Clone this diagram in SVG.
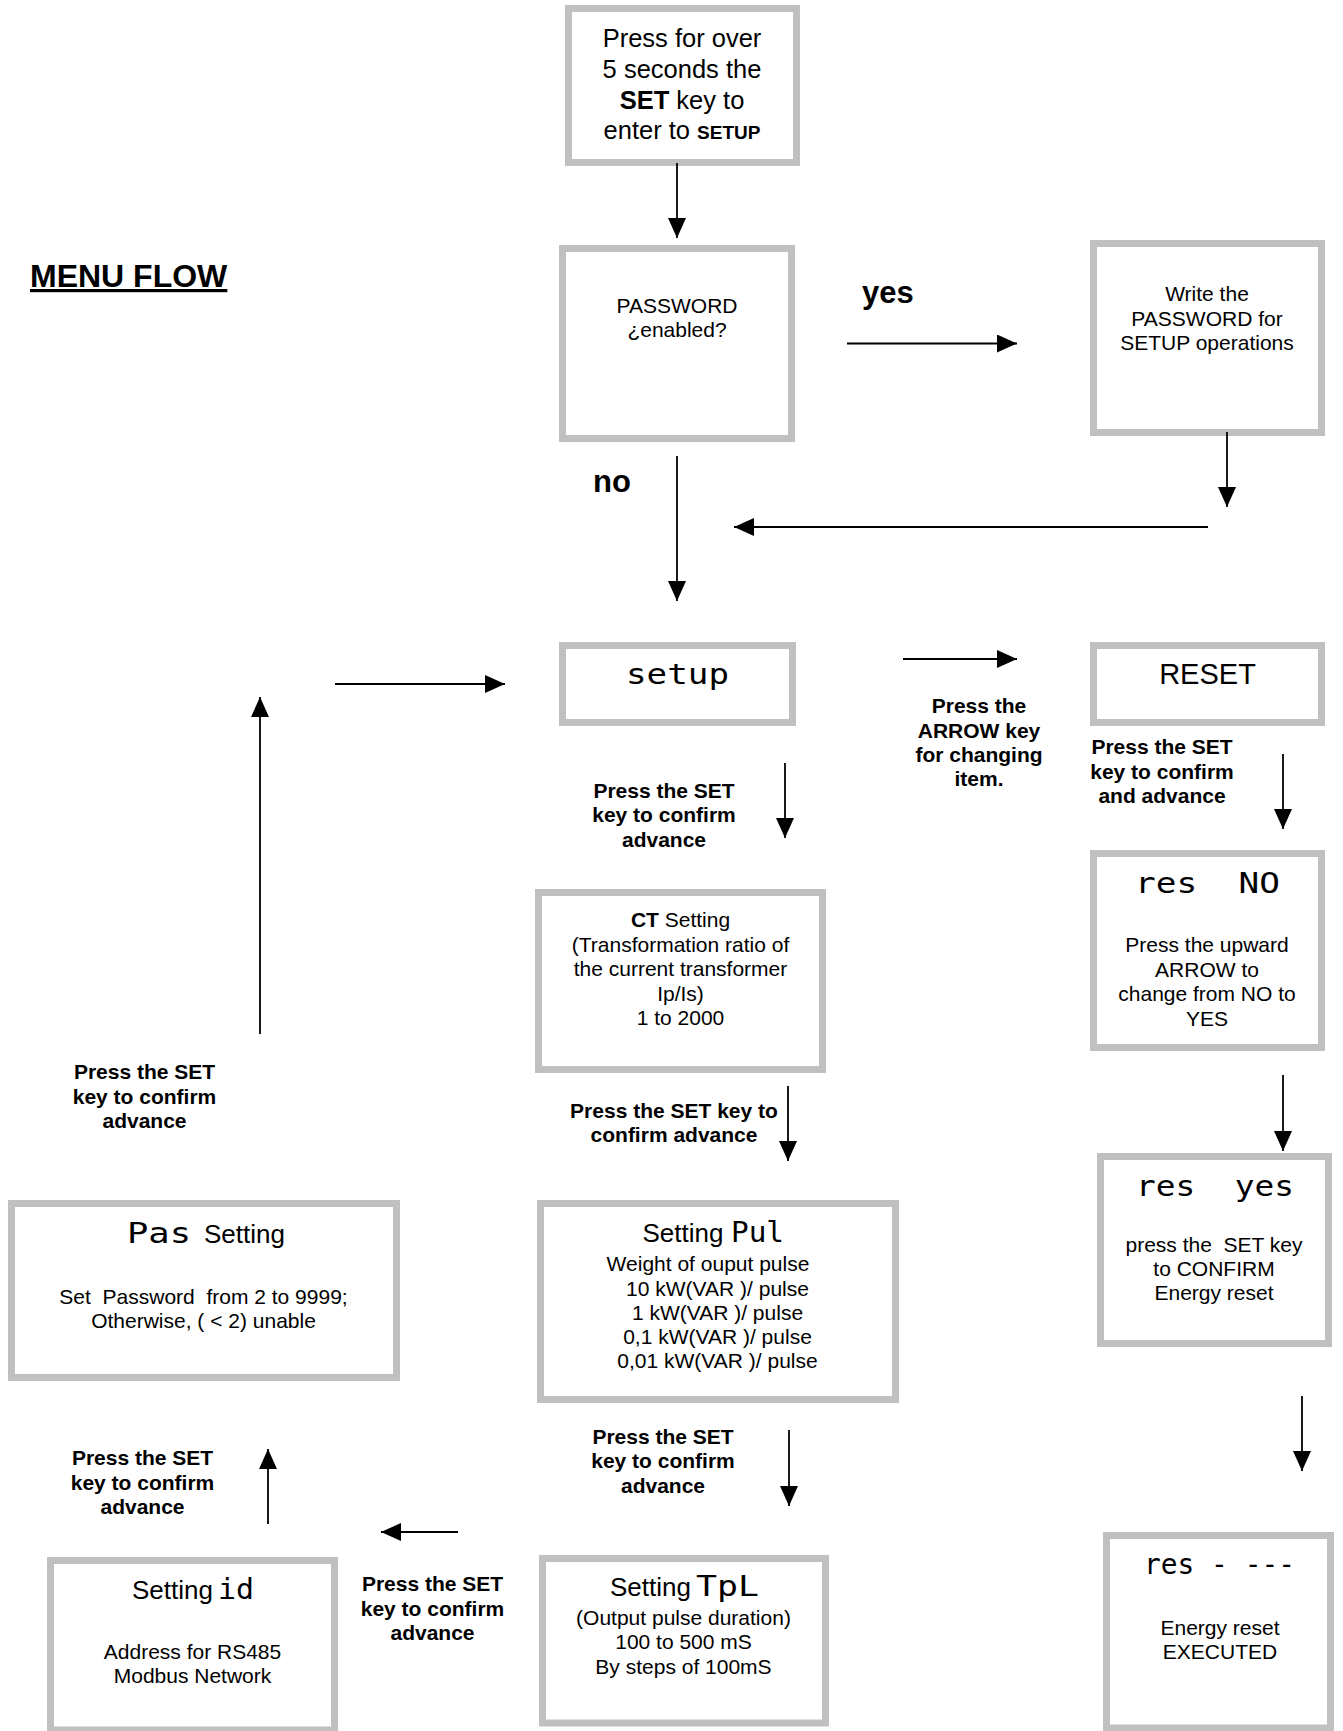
<svg xmlns="http://www.w3.org/2000/svg" width="1343" height="1731" viewBox="0 0 1343 1731">
<style>
.box{fill:#fff;stroke:#c0c0c0;stroke-width:7}
.t{font-family:"Liberation Sans",Arial,sans-serif;font-size:21px;text-anchor:middle;fill:#000}
.b{font-family:"Liberation Sans",Arial,sans-serif;font-size:21px;font-weight:bold;text-anchor:middle;fill:#000}
.big{font-family:"Liberation Sans",Arial,sans-serif;font-size:31px;font-weight:bold;fill:#000}
.hd{font-family:"Liberation Sans",Arial,sans-serif;font-size:26px;fill:#000}
.m{font-family:"DejaVu Sans Mono",monospace;font-size:28px;fill:#000;white-space:pre}
.pre{white-space:pre}
.conn line{stroke:#000;stroke-width:1.8;fill:none}
</style>
<defs>
<marker id="ah" markerUnits="userSpaceOnUse" markerWidth="20" markerHeight="18" refX="20" refY="9" orient="auto">
<path d="M0,0 L20,9 L0,18 z" fill="#000"/>
</marker>
</defs>
<rect width="1343" height="1731" fill="#fff"/>

<text id="title" x="30" y="287" class="big" text-decoration="underline" style="font-size:32px">MENU FLOW</text>

<g id="n-start">
<rect class="box" x="568.5" y="8.5" width="228" height="154"/>
<text class="t" style="font-size:25.5px" x="682" y="46.5">Press for over</text>
<text class="t" style="font-size:25.5px" x="682" y="77.5">5 seconds the</text>
<text class="t" style="font-size:25.5px" x="682" y="108.5"><tspan font-weight="bold">SET</tspan> key to</text>
<text class="t" style="font-size:25.5px" x="682" y="139">enter to <tspan font-weight="bold" font-size="19">SETUP</tspan></text>
</g>

<g id="n-password">
<rect class="box" x="562.5" y="248.5" width="229" height="190"/>
<text class="t" x="677" y="313">PASSWORD</text>
<text class="t" x="677" y="337">¿enabled?</text>
</g>

<g id="n-write">
<rect class="box" x="1093.5" y="243.5" width="228" height="189"/>
<text class="t" x="1207" y="301">Write the</text>
<text class="t" x="1207" y="325.5">PASSWORD for</text>
<text class="t" x="1207" y="350">SETUP operations</text>
</g>

<g id="n-setup">
<rect class="box" x="562.5" y="645.5" width="230" height="77"/>
<text class="m" x="626" y="684" textLength="103" lengthAdjust="spacingAndGlyphs">setup</text>
</g>

<g id="n-reset">
<rect class="box" x="1093.5" y="645.5" width="228" height="77"/>
<text class="t" style="font-size:29px" x="1207.5" y="684">RESET</text>
</g>

<g id="n-resno">
<rect class="box" x="1093.5" y="853.5" width="228" height="194"/>
<text class="m" x="1135" y="893" textLength="145" lengthAdjust="spacingAndGlyphs">res  NO</text>
<text class="t" x="1207" y="952">Press the upward</text>
<text class="t" x="1207" y="976.5">ARROW to</text>
<text class="t" x="1207" y="1001">change from NO to</text>
<text class="t" x="1207" y="1025.5">YES</text>
</g>

<g id="n-resyes">
<rect class="box" x="1100.5" y="1156.5" width="228" height="187"/>
<text class="m" x="1136" y="1196" textLength="158" lengthAdjust="spacingAndGlyphs">res  yes</text>
<text class="t pre" x="1214" y="1252">press the  SET key</text>
<text class="t" x="1214" y="1276">to CONFIRM</text>
<text class="t" x="1214" y="1300">Energy reset</text>
</g>

<g id="n-resdone">
<rect class="box" x="1106.5" y="1535.5" width="224" height="192.5"/>
<text class="m" x="1144" y="1574" textLength="151" lengthAdjust="spacingAndGlyphs">res - ---</text>
<text class="t" x="1220" y="1635">Energy reset</text>
<text class="t" x="1220" y="1659">EXECUTED</text>
</g>

<g id="n-ct">
<rect class="box" x="538.5" y="892.5" width="284" height="177"/>
<text class="t" x="680.5" y="927"><tspan font-weight="bold">CT</tspan> Setting</text>
<text class="t" x="680.5" y="951.5">(Transformation ratio of</text>
<text class="t" x="680.5" y="976">the current transformer</text>
<text class="t" x="680.5" y="1000.5">Ip/Is)</text>
<text class="t" x="680.5" y="1025">1 to 2000</text>
</g>

<g id="n-pul">
<rect class="box" x="540.5" y="1203.5" width="355" height="196"/>
<text class="hd" x="642.5" y="1241.5">Setting</text>
<text class="m" x="731" y="1241.5" textLength="53" lengthAdjust="spacingAndGlyphs">Pul</text>
<text class="t" x="708" y="1271">Weight of ouput pulse</text>
<text class="t" x="717.5" y="1295.5">10 kW(VAR )/ pulse</text>
<text class="t" x="717.5" y="1319.5">1 kW(VAR )/ pulse</text>
<text class="t" x="717.5" y="1343.5">0,1 kW(VAR )/ pulse</text>
<text class="t" x="717.5" y="1368">0,01 kW(VAR )/ pulse</text>
</g>

<g id="n-tpl">
<rect class="box" x="542.5" y="1558.5" width="283" height="164.5"/>
<text class="hd" x="610" y="1596">Setting</text>
<text class="m" x="696" y="1596" textLength="63" lengthAdjust="spacingAndGlyphs">TpL</text>
<text class="t" x="683.5" y="1624.5">(Output pulse duration)</text>
<text class="t" x="683.5" y="1649">100 to 500 mS</text>
<text class="t" x="683.5" y="1673.5">By steps of 100mS</text>
</g>

<g id="n-id">
<rect class="box" x="50.5" y="1560.5" width="284" height="169.5"/>
<text class="hd" x="132" y="1599">Setting</text>
<text class="m" x="218" y="1599" textLength="36" lengthAdjust="spacingAndGlyphs">id</text>
<text class="t" x="192.5" y="1658.5">Address for RS485</text>
<text class="t" x="192.5" y="1683">Modbus Network</text>
</g>

<g id="n-pas">
<rect class="box" x="11.5" y="1203.5" width="385" height="174"/>
<text class="m" x="127" y="1242.5" textLength="64" lengthAdjust="spacingAndGlyphs">Pas</text>
<text class="hd" x="204" y="1242.5">Setting</text>
<text class="t pre" x="203.5" y="1303.5">Set  Password  from 2 to 9999;</text>
<text class="t" x="203.5" y="1327.5">Otherwise, ( &lt; 2) unable</text>
</g>

<g id="connectors" class="conn">
<line x1="677" y1="163" x2="677" y2="238" marker-end="url(#ah)"/>
<line x1="847" y1="343.5" x2="1017" y2="343.5" marker-end="url(#ah)"/>
<line x1="1227" y1="432" x2="1227" y2="507" marker-end="url(#ah)"/>
<line x1="1208" y1="527" x2="734" y2="527" marker-end="url(#ah)"/>
<line x1="677" y1="456" x2="677" y2="601" marker-end="url(#ah)"/>
<line x1="903" y1="659" x2="1017" y2="659" marker-end="url(#ah)"/>
<line x1="785" y1="763" x2="785" y2="838" marker-end="url(#ah)"/>
<line x1="1283" y1="754" x2="1283" y2="829" marker-end="url(#ah)"/>
<line x1="788" y1="1086" x2="788" y2="1161" marker-end="url(#ah)"/>
<line x1="1283" y1="1075" x2="1283" y2="1151" marker-end="url(#ah)"/>
<line x1="789" y1="1430" x2="789" y2="1506" marker-end="url(#ah)"/>
<line x1="1302" y1="1396" x2="1302" y2="1471" marker-end="url(#ah)"/>
<line x1="458" y1="1532" x2="381" y2="1532" marker-end="url(#ah)"/>
<line x1="268" y1="1524" x2="268" y2="1449" marker-end="url(#ah)"/>
<line x1="260" y1="1034" x2="260" y2="697" marker-end="url(#ah)"/>
<line x1="335" y1="684" x2="505" y2="684" marker-end="url(#ah)"/>
</g>

<g id="labels">
<text class="big" x="862" y="303">yes</text>
<text class="big" x="593" y="492">no</text>
<text class="b" x="979" y="713">Press the</text>
<text class="b" x="979" y="738">ARROW key</text>
<text class="b" x="979" y="762">for changing</text>
<text class="b" x="979" y="786">item.</text>
<text class="b" x="1162" y="754">Press the SET</text>
<text class="b" x="1162" y="779">key to confirm</text>
<text class="b" x="1162" y="803">and advance</text>
<text class="b" x="664" y="797.5">Press the SET</text>
<text class="b" x="664" y="822">key to confirm</text>
<text class="b" x="664" y="847">advance</text>
<text class="b" x="674" y="1117.5">Press the SET key to</text>
<text class="b" x="674" y="1142">confirm advance</text>
<text class="b" x="663" y="1443.5">Press the SET</text>
<text class="b" x="663" y="1468">key to confirm</text>
<text class="b" x="663" y="1492.5">advance</text>
<text class="b" x="432.5" y="1591">Press the SET</text>
<text class="b" x="432.5" y="1615.5">key to confirm</text>
<text class="b" x="432.5" y="1640">advance</text>
<text class="b" x="142.5" y="1465">Press the SET</text>
<text class="b" x="142.5" y="1489.5">key to confirm</text>
<text class="b" x="142.5" y="1514">advance</text>
<text class="b" x="144.5" y="1079">Press the SET</text>
<text class="b" x="144.5" y="1103.5">key to confirm</text>
<text class="b" x="144.5" y="1128">advance</text>
</g>
</svg>
